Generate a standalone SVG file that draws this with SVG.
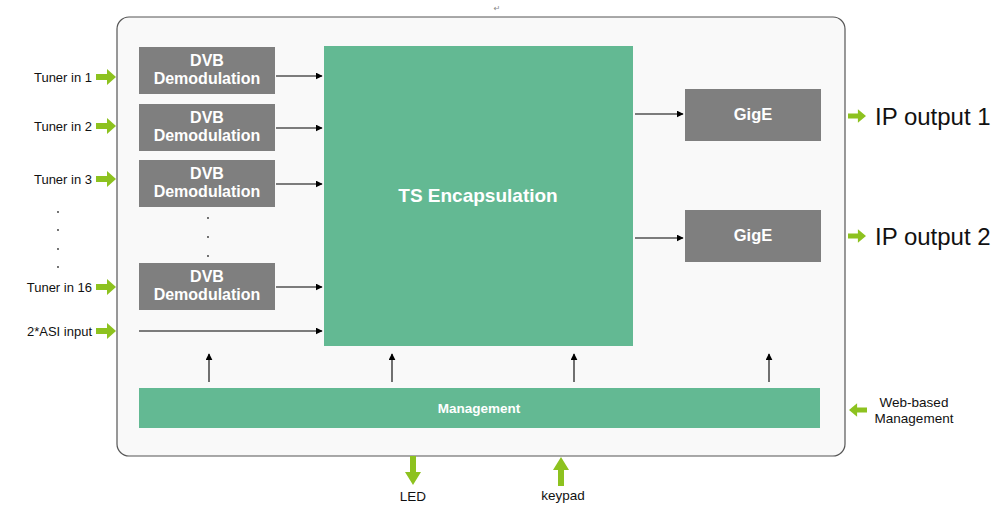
<svg xmlns="http://www.w3.org/2000/svg" width="1000" height="507" viewBox="0 0 1000 507">
<defs>
<style>
.box{fill:#7f7f7f}
.grn{fill:#63b993}
.wt{fill:#ffffff;font-family:"Liberation Sans",Arial,sans-serif;font-weight:bold;text-anchor:middle}
.lbl{fill:#111;font-family:"Liberation Sans",Arial,sans-serif;font-size:13px}
.big{font-size:24px}
.sm{font-size:13.5px}
.con{stroke:#000;stroke-width:1.1;fill:none;marker-end:url(#ah)}
.ga{fill:#8dc21f}
.dot{fill:#333}
</style>
<marker id="ah" viewBox="0 0 10 10" refX="9" refY="5" markerWidth="7" markerHeight="7" markerUnits="userSpaceOnUse" orient="auto">
<path d="M0,0 L10,5 L0,10 z" fill="#000"/>
</marker>
<path id="garrow" d="M0,-3 L11,-3 L11,-8 L20,0 L11,8 L11,3 L0,3 z"/>
</defs>
<rect width="1000" height="507" fill="#ffffff"/>
<text x="497" y="11" font-family="DejaVu Sans,sans-serif" font-size="8" fill="#888" text-anchor="middle">↵</text>
<g id="frame">
<rect x="117" y="17" width="728" height="439" rx="12" ry="12" fill="#f9f9f9" stroke="#555" stroke-width="1.2"/>
</g>
<g id="dvb1"><rect class="box" x="139" y="47" width="136" height="47"/><text class="wt" font-size="16" x="207" y="66">DVB</text><text class="wt" font-size="16" x="207" y="84">Demodulation</text></g>
<g id="dvb2"><rect class="box" x="139" y="104" width="136" height="47"/><text class="wt" font-size="16" x="207" y="123">DVB</text><text class="wt" font-size="16" x="207" y="141">Demodulation</text></g>
<g id="dvb3"><rect class="box" x="139" y="160" width="136" height="47"/><text class="wt" font-size="16" x="207" y="179">DVB</text><text class="wt" font-size="16" x="207" y="197">Demodulation</text></g>
<g id="dvb16"><rect class="box" x="139" y="263" width="136" height="47"/><text class="wt" font-size="16" x="207" y="282">DVB</text><text class="wt" font-size="16" x="207" y="300">Demodulation</text></g>
<g id="ts"><rect class="grn" x="324" y="46" width="309" height="300"/><text class="wt" font-size="19" x="478" y="202">TS Encapsulation</text></g>
<g id="gige1"><rect class="box" x="685" y="89" width="136" height="52"/><text class="wt" font-size="16.5" x="753" y="120">GigE</text></g>
<g id="gige2"><rect class="box" x="685" y="210" width="136" height="52"/><text class="wt" font-size="16.5" x="753" y="241">GigE</text></g>
<g id="mgmt"><rect class="grn" x="139" y="388" width="681" height="40"/><text class="wt" font-size="13.5" x="479" y="413">Management</text></g>
<g id="dots">
<circle class="dot" cx="58" cy="212" r="0.9"/><circle class="dot" cx="58" cy="230" r="0.9"/><circle class="dot" cx="58" cy="249" r="0.9"/><circle class="dot" cx="58" cy="267" r="0.9"/>
<circle class="dot" cx="208" cy="218" r="0.9"/><circle class="dot" cx="208" cy="237" r="0.9"/><circle class="dot" cx="208" cy="256" r="0.9"/>
</g>
<g id="connectors">
<line class="con" x1="276" y1="76" x2="322" y2="76"/>
<line class="con" x1="276" y1="128" x2="322" y2="128"/>
<line class="con" x1="276" y1="184" x2="322" y2="184"/>
<line class="con" x1="276" y1="287" x2="322" y2="287"/>
<line class="con" x1="139" y1="331" x2="322" y2="331"/>
<line class="con" x1="635" y1="114" x2="683" y2="114"/>
<line class="con" x1="635" y1="238" x2="683" y2="238"/>
<line class="con" x1="209" y1="382" x2="209" y2="354"/>
<line class="con" x1="392" y1="382" x2="392" y2="354"/>
<line class="con" x1="574" y1="382" x2="574" y2="354"/>
<line class="con" x1="769" y1="382" x2="769" y2="354"/>
<use href="#garrow" class="ga" transform="translate(96,77)"/>
<use href="#garrow" class="ga" transform="translate(96,126)"/>
<use href="#garrow" class="ga" transform="translate(96,179)"/>
<use href="#garrow" class="ga" transform="translate(96,287)"/>
<use href="#garrow" class="ga" transform="translate(96,331)"/>
<use href="#garrow" class="ga" transform="translate(848,116) scale(0.9,0.85)"/>
<use href="#garrow" class="ga" transform="translate(848,236) scale(0.9,0.85)"/>
<use href="#garrow" class="ga" transform="translate(867,410) rotate(180) scale(0.9,0.85)"/>
<use href="#garrow" class="ga" transform="translate(413,456) rotate(90) scale(1.45,1)"/>
<use href="#garrow" class="ga" transform="translate(561,486) rotate(-90) scale(1.45,1)"/>
</g>
<g id="labels">
<text class="lbl" x="92" y="82" text-anchor="end">Tuner in 1</text>
<text class="lbl" x="92" y="131" text-anchor="end">Tuner in 2</text>
<text class="lbl" x="92" y="184" text-anchor="end">Tuner in 3</text>
<text class="lbl" x="92" y="292" text-anchor="end">Tuner in 16</text>
<text class="lbl" x="92" y="336" text-anchor="end">2*ASI input</text>
<text class="lbl big" x="875" y="125">IP output 1</text>
<text class="lbl big" x="875" y="245">IP output 2</text>
<text class="lbl sm" x="914" y="407" text-anchor="middle">Web-based</text>
<text class="lbl sm" x="914" y="423" text-anchor="middle">Management</text>
<text class="lbl sm" x="413" y="501" text-anchor="middle">LED</text>
<text class="lbl sm" x="563" y="500" text-anchor="middle">keypad</text>
</g>
</svg>
